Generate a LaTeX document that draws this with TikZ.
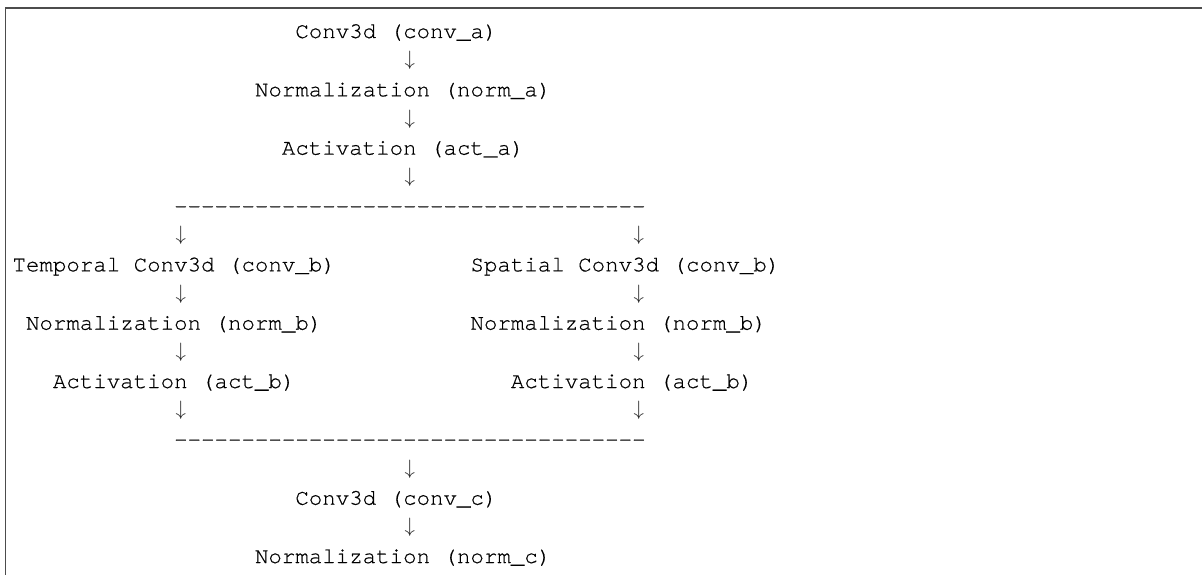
\documentclass[tikz,border=0pt]{standalone}
\usepackage{fontspec}
\IfFontExistsTF{texgyrecursor-regular.otf}
  {\setmonofont[FakeBold=0.45]{texgyrecursor-regular.otf}\def\codesize{22.45pt}}
  {\setmonofont{Latin Modern Mono}\def\codesize{25.66pt}}
\begin{document}
\begin{tikzpicture}[x=1pt,y=-1pt,
  txt/.style={anchor=base west, inner sep=0pt, outer sep=0pt,
    font=\ttfamily\fontsize{\codesize}{29pt}\selectfont, text=black},
  arr/.style={anchor=base, inner sep=0pt, outer sep=0pt,
    font=\fontsize{22.45pt}{29pt}\selectfont, text=black!85},
  frame/.style={draw=black!70, line width=1.6pt}]
\useasboundingbox (0,0) rectangle (1202,575);
\def\xo{12.5}\def\cw{13.47}\def\yo{38}\def\lp{29.17}\def\ay{-1.5}
% frame (top and left edges only)
\coordinate (fbl) at (5.5,575);
\coordinate (ftl) at (5.5,7.8);
\coordinate (ftr) at (1202,7.8);
\draw[frame] (fbl) -- (ftl) -- (ftr);
% upper trunk
\node[txt] (convA) at ({\xo+21*\cw},{\yo+0*\lp}) {Conv3d (conv\_a)};
\node[arr] (arA1)  at ({\xo+29.5*\cw},{\yo+1*\lp+\ay}) {$\downarrow$};
\node[txt] (normA) at ({\xo+18*\cw},{\yo+2*\lp}) {Normalization (norm\_a)};
\node[arr] (arA2)  at ({\xo+29.5*\cw},{\yo+3*\lp+\ay}) {$\downarrow$};
\node[txt] (actA)  at ({\xo+20*\cw},{\yo+4*\lp}) {Activation (act\_a)};
\node[arr] (arA3)  at ({\xo+29.5*\cw},{\yo+5*\lp+\ay}) {$\downarrow$};
\node[txt] (split) at ({\xo+12*\cw},{\yo+6*\lp}) {-----------------------------------};
% two branches
\node[arr] (arL1)  at ({\xo+12.5*\cw},{\yo+7*\lp+\ay}) {$\downarrow$};
\node[arr] (arR1)  at ({\xo+46.5*\cw},{\yo+7*\lp+\ay}) {$\downarrow$};
\node[txt] (convBt) at ({\xo+0*\cw},{\yo+8*\lp}) {Temporal Conv3d (conv\_b)};
\node[txt] (convBs) at ({\xo+34*\cw},{\yo+8*\lp}) {Spatial Conv3d (conv\_b)};
\node[arr] (arL2)  at ({\xo+12.5*\cw},{\yo+9*\lp+\ay}) {$\downarrow$};
\node[arr] (arR2)  at ({\xo+46.5*\cw},{\yo+9*\lp+\ay}) {$\downarrow$};
\node[txt] (normBt) at ({\xo+1*\cw},{\yo+10*\lp}) {Normalization (norm\_b)};
\node[txt] (normBs) at ({\xo+34*\cw},{\yo+10*\lp}) {Normalization (norm\_b)};
\node[arr] (arL3)  at ({\xo+12.5*\cw},{\yo+11*\lp+\ay}) {$\downarrow$};
\node[arr] (arR3)  at ({\xo+46.5*\cw},{\yo+11*\lp+\ay}) {$\downarrow$};
\node[txt] (actBt) at ({\xo+3*\cw},{\yo+12*\lp}) {Activation (act\_b)};
\node[txt] (actBs) at ({\xo+37*\cw},{\yo+12*\lp}) {Activation (act\_b)};
\node[arr] (arL4)  at ({\xo+12.5*\cw},{\yo+13*\lp+\ay}) {$\downarrow$};
\node[arr] (arR4)  at ({\xo+46.5*\cw},{\yo+13*\lp+\ay}) {$\downarrow$};
\node[txt] (merge) at ({\xo+12*\cw},{\yo+14*\lp}) {-----------------------------------};
% lower trunk
\node[arr] (arC1)  at ({\xo+29.5*\cw},{\yo+15*\lp+\ay}) {$\downarrow$};
\node[txt] (convC) at ({\xo+21*\cw},{\yo+16*\lp}) {Conv3d (conv\_c)};
\node[arr] (arC2)  at ({\xo+29.5*\cw},{\yo+17*\lp+\ay}) {$\downarrow$};
\node[txt] (normC) at ({\xo+18*\cw},{\yo+18*\lp}) {Normalization (norm\_c)};
\end{tikzpicture}
\end{document}
